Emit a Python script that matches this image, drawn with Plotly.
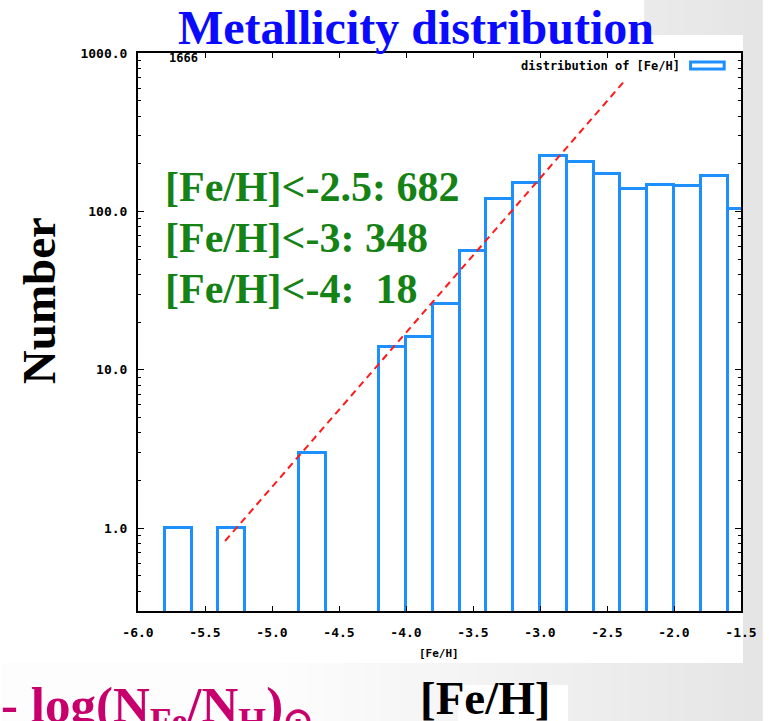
import plotly.graph_objects as go

# Histogram of [Fe/H]: bin centres (bin width 0.2 dex) and star counts
bin_centers = [-5.7, -5.3, -4.7, -4.1, -3.9, -3.7, -3.5, -3.3, -3.1, -2.9,
               -2.7, -2.5, -2.3, -2.1, -1.9, -1.7, -1.5]
counts = [1, 1, 3, 14, 16, 26, 56, 120, 152, 224,
          206, 172, 138, 146, 145, 167, 104]
bin_width = 0.2

# Reference slope line (dashed)
fit_x = [-5.35, -2.38]
fit_y = [0.83, 650]

# Axis ticks
x_tickvals = [-6.0, -5.5, -5.0, -4.5, -4.0, -3.5, -3.0, -2.5, -2.0, -1.5]
x_ticktext = ["-6.0", "-5.5", "-5.0", "-4.5", "-4.0", "-3.5", "-3.0", "-2.5", "-2.0", "-1.5"]
y_tickvals = [1, 10, 100, 1000]
y_ticktext = ["1.0", "10.0", "100.0", "1000.0"]
y_minor = [m * d for d in (0.1, 1, 10, 100) for m in range(2, 10) if 0.3 <= m * d < 1000]

# Cumulative-count labels
count_labels = ["[Fe/H]<-2.5: 682", "[Fe/H]<-3: 348", "[Fe/H]<-4:  18"]
total_label = "1666"

W, H = 769, 721
L, R, T, B = 138, 21, 53, 110
PW, PH = W - L - R, H - T - B


def px(x):
    return (x - L) / PW


def py(y):
    return (H - B - y) / PH


MONO = "DejaVu Sans Mono"
SERIF = "Liberation Serif"

fig = go.Figure()

fig.add_trace(go.Bar(
    x=bin_centers, y=counts, width=bin_width,
    marker=dict(color="white", line=dict(color="#1e8fff", width=3)),
    name="distribution of [Fe/H]", showlegend=False,
))

fig.add_trace(go.Scatter(
    x=fit_x, y=fit_y, mode="lines",
    line=dict(color="#ff1a1a", width=2, dash="7px,5px"),
    showlegend=False,
))

shapes = []
# slide background: gradient from white (left) to light grey (right)
nstrip = 40
for i in range(nstrip):
    x0 = i * W / nstrip
    x1 = (i + 1) * W / nstrip
    xc = (x0 + x1) / 2
    t = max(0.0, (xc - 280) / (W - 280))
    g = int(round(253 - 24 * t))
    shapes.append(dict(type="rect", xref="paper", yref="paper",
                       x0=px(x0), x1=px(x1 + 1), y0=py(H), y1=py(0),
                       fillcolor=f"rgb({g},{g},{g})", line=dict(width=0), layer="below"))
# white panels behind the chart and the headings
for (x0, y0, x1, y1) in [(0, 35, 750, 663), (0, 0, 650, 35), (462, 685, 573, H)]:
    shapes.append(dict(type="rect", xref="paper", yref="paper",
                       x0=px(x0), x1=px(x1), y0=py(y1), y1=py(y0),
                       fillcolor="white", line=dict(width=0), layer="below"))
# legend sample box
shapes.append(dict(type="rect", xref="paper", yref="paper",
                   x0=px(697), x1=px(731), y0=py(69), y1=py(62),
                   fillcolor="white", line=dict(color="#1e8fff", width=3)))

annotations = [
    dict(text="<b>Metallicity distribution</b>", xref="paper", yref="paper",
         x=px(419), y=py(28), xanchor="center", yanchor="middle", showarrow=False,
         font=dict(family=SERIF, size=48, color="#0a0aff")),
    dict(text="<b>Number</b>", xref="paper", yref="paper", textangle=-90,
         x=px(38), y=py(301), xanchor="center", yanchor="middle", showarrow=False,
         font=dict(family=SERIF, size=47, color="black")),
    dict(text="<b>distribution of [Fe/H]</b>", xref="paper", yref="paper",
         x=px(688), y=py(66), xanchor="right", yanchor="middle", showarrow=False,
         font=dict(family=MONO, size=12, color="black")),
    dict(text="<b>" + total_label + "</b>", xref="paper", yref="paper",
         x=px(167), y=py(58), xanchor="left", yanchor="middle", showarrow=False,
         font=dict(family=MONO, size=12, color="black")),
    dict(text="<b>[Fe/H]</b>", xref="paper", yref="paper",
         x=px(442), y=py(653), xanchor="center", yanchor="middle", showarrow=False,
         font=dict(family=MONO, size=11, color="black")),
    dict(text="<b>[Fe/H]</b>", xref="paper", yref="paper",
         x=px(421), y=py(698), xanchor="left", yanchor="middle", showarrow=False,
         font=dict(family=SERIF, size=47, color="black")),
    dict(text="<b>- log(N<sub>Fe</sub>/N<sub>H</sub>)<sub>\u2299</sub></b>", xref="paper", yref="paper",
         x=px(-3), y=py(709), xanchor="left", yanchor="middle", showarrow=False,
         font=dict(family=SERIF, size=51, color="#c8006e")),
]
for i, lab in enumerate(count_labels):
    annotations.append(dict(
        text="<b>" + lab + "</b>", xref="paper", yref="paper",
        x=px(163), y=py(187 + 51 * i), xanchor="left", yanchor="middle", showarrow=False,
        font=dict(family=SERIF, size=42, color="#148214")))

fig.update_layout(
    width=W, height=H,
    margin=dict(l=L, r=R, t=T, b=B),
    paper_bgcolor="white", plot_bgcolor="white",
    bargap=0, showlegend=False,
    shapes=shapes, annotations=annotations,
    xaxis=dict(
        range=[-6.0, -1.5], tickvals=x_tickvals, ticktext=x_ticktext,
        ticks="inside", ticklen=5, tickwidth=1, tickcolor="black",
        ticklabelstandoff=8,
        showline=True, linecolor="black", linewidth=2, mirror="allticks",
        showgrid=False, zeroline=False,
        tickfont=dict(family=MONO, size=13, color="black", weight="bold"),
    ),
    yaxis=dict(
        type="log", range=[-0.523, 3.0], tickvals=y_tickvals, ticktext=y_ticktext,
        ticks="inside", ticklen=6, tickwidth=1, tickcolor="black",
        ticklabelstandoff=6,
        minor=dict(tickvals=y_minor, ticks="inside", ticklen=3, tickcolor="black", showgrid=False),
        showline=True, linecolor="black", linewidth=2, mirror="allticks",
        showgrid=False, zeroline=False,
        tickfont=dict(family=MONO, size=13, color="black", weight="bold"),
    ),
)

fig.write_html("out.html")
